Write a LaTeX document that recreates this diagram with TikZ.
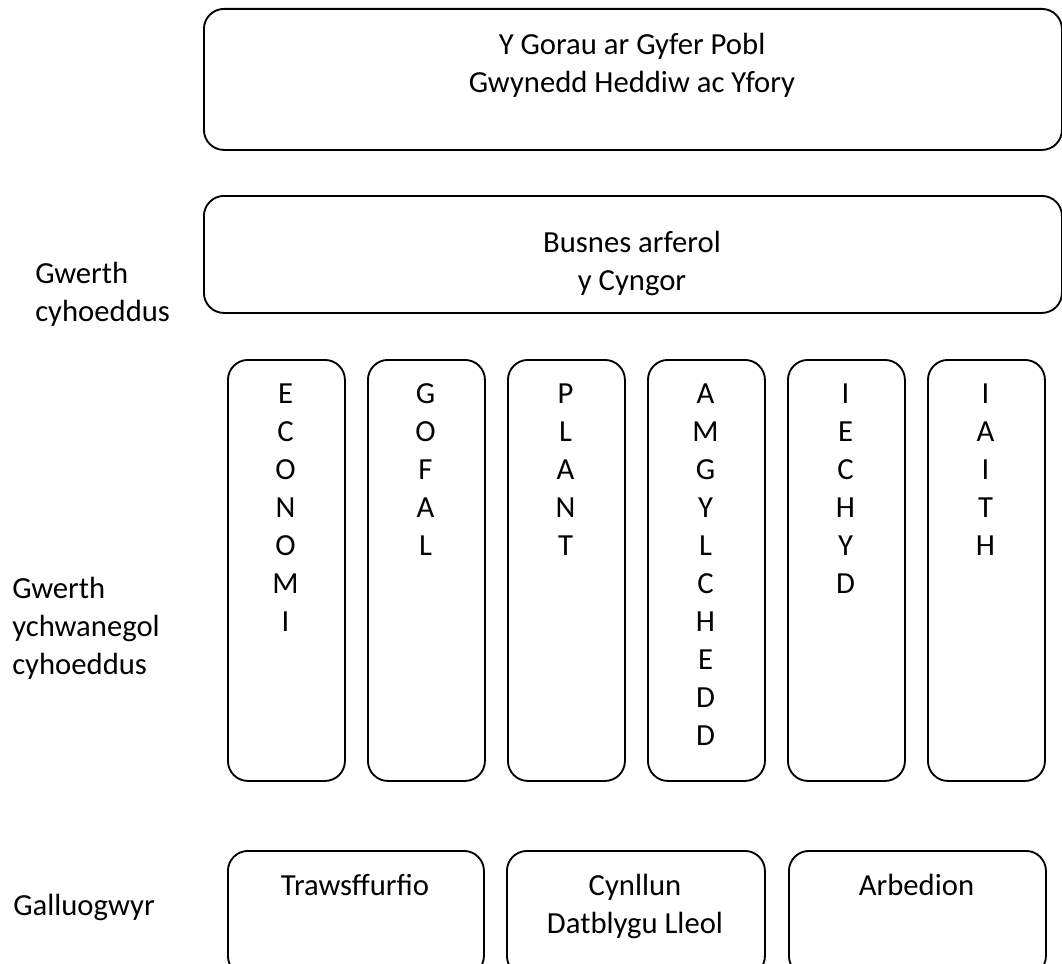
\documentclass[tikz,border=0pt]{standalone}
\usepackage{fontspec}
\setmainfont{Carlito}
\usetikzlibrary{positioning}
\def\px{0.75pt}
\def\colsep{140}
\def\colw{117}
\def\coltop{359}
\def\colh{421}
\def\lsep{38}

\begin{document}
\begin{tikzpicture}[x=\px, y=-\px,
    every node/.style={font=\fontsize{23}{28.5}\selectfont},
    box/.style={
      draw, line width=1.4pt, rounded corners=15pt,
      anchor=north west, inner sep=0pt
    },
    colbox/.style={
      box, minimum width=\colw*\px, minimum height=\colh*\px
    },
    txt/.style={anchor=base, align=center, inner sep=0pt},
    sidetxt/.style={anchor=base west, align=left, inner sep=0pt}
  ]
    \clip (0,0) rectangle (1062,963);

    % top boxes
    \node[box, minimum width=858*\px, minimum height=141*\px] (goal) at (203,8) {};
    \node[txt] (goaltxt) at (632,55+\lsep) {Y Gorau ar Gyfer Pobl\\Gwynedd Heddiw ac Yfory};

    \node[box, minimum width=858*\px, minimum height=117*\px] (busnes) at (203,195) {};
    \node[txt] (busnestxt) at (632,252+\lsep) {Busnes arferol\\y Cyngor};

    % columns
    \node[colbox] (economi) at (227+0*\colsep,\coltop) {};
    \node[colbox] (gofal) at (227+1*\colsep,\coltop) {};
    \node[colbox] (plant) at (227+2*\colsep,\coltop) {};
    \node[colbox] (amgylchedd) at (227+3*\colsep,\coltop) {};
    \node[colbox] (iechyd) at (227+4*\colsep,\coltop) {};
    \node[colbox] (iaith) at (227+5*\colsep,\coltop) {};

    % letters: base anchor sits on the last line
    \node[txt] (economitxt) at (285.5+0*\colsep,403+6*\lsep) {E\\C\\O\\N\\O\\M\\I};
    \node[txt] (gofaltxt) at (285.5+1*\colsep,403+4*\lsep) {G\\O\\F\\A\\L};
    \node[txt] (planttxt) at (285.5+2*\colsep,403+4*\lsep) {P\\L\\A\\N\\T};
    \node[txt] (amgylcheddtxt) at (285.5+3*\colsep,403+9*\lsep) {A\\M\\G\\Y\\L\\C\\H\\E\\D\\D};
    \node[txt] (iechydtxt) at (285.5+4*\colsep,403+5*\lsep) {I\\E\\C\\H\\Y\\D};
    \node[txt] (iaithtxt) at (285.5+5*\colsep,403+4*\lsep) {I\\A\\I\\T\\H};

    % bottom boxes
    \node[box, minimum width=256*\px, minimum height=125*\px] (traws) at (227,850) {};
    \node[box, minimum width=258*\px, minimum height=125*\px] (cynllun) at (506,850) {};
    \node[box, minimum width=257*\px, minimum height=125*\px] (arbed) at (788,850) {};

    \node[txt] (trawstxt) at (355,895) {Trawsffurfio};
    \node[txt] (cynlluntxt) at (635,895+\lsep) {Cynllun\\Datblygu Lleol};
    \node[txt] (arbedtxt) at (916.5,895) {Arbedion};

    % side labels
    \node[sidetxt] (gwerth) at (35,283+\lsep) {Gwerth\\cyhoeddus};
    \node[sidetxt] (ychwanegol) at (12,598+2*\lsep) {Gwerth\\ychwanegol\\cyhoeddus};
    \node[sidetxt] (galluogwyr) at (13,915) {Galluogwyr};
  \end{tikzpicture}
\end{document}
